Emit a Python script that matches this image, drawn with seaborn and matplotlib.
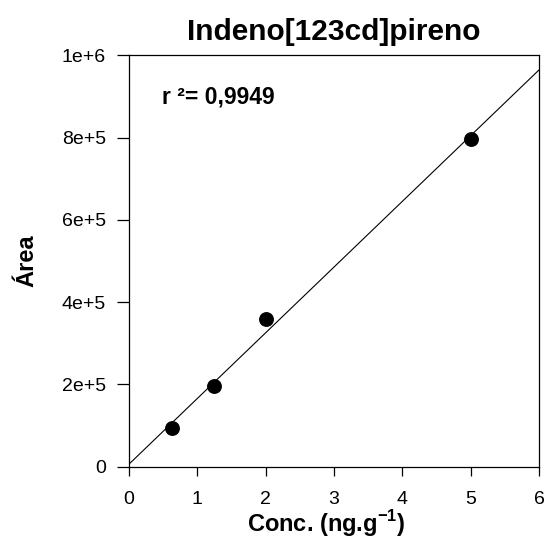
import numpy as np
import pandas as pd
import matplotlib
matplotlib.use("Agg")
import matplotlib.pyplot as plt
import seaborn as sns

conc = [0.625, 1.25, 2.0, 5.0]
area = [93000, 195000, 358000, 796000]
x_ticks = [0, 1, 2, 3, 4, 5, 6]
y_ticks = [0, 200000, 400000, 600000, 800000, 1000000]
y_tick_labels = ["0", "2e+5", "4e+5", "6e+5", "8e+5", "1e+6"]
title = "Indeno[123cd]pireno"
r2_text = "r ²= 0,9949"

sns.set_style("ticks", {"text.color": "black", "axes.labelcolor": "black",
                        "xtick.color": "black", "ytick.color": "black",
                        "axes.edgecolor": "black"})
plt.rcParams["font.family"] = ["Liberation Sans", "DejaVu Sans"]
plt.rcParams["mathtext.fontset"] = "custom"
plt.rcParams["mathtext.bf"] = "Liberation Sans:bold"
plt.rcParams["mathtext.rm"] = "Liberation Sans"

fig = plt.figure(figsize=(5.48, 5.46), dpi=100)
ax = fig.add_axes([129/548, 1 - 466.7/546, (539-129)/548, (466.7-55.3)/546])

df = pd.DataFrame({"conc": conc, "area": area})
slope, intercept = np.polyfit(conc, area, 1)
fit_x = np.array([x_ticks[0], x_ticks[-1]], dtype=float)
fit = pd.DataFrame({"conc": fit_x, "area": slope * fit_x + intercept})

sns.lineplot(data=fit, x="conc", y="area", ax=ax, color="black", linewidth=0.8)
sns.scatterplot(data=df, x="conc", y="area", ax=ax, color="black", s=115,
                edgecolor="black", linewidth=0, zorder=3)

ax.set_xlim(x_ticks[0], x_ticks[-1])
ax.set_ylim(y_ticks[0], y_ticks[-1])
ax.set_xticks(x_ticks)
ax.set_xticklabels([str(t) for t in x_ticks])
ax.set_yticks(y_ticks)
ax.set_yticklabels(y_tick_labels)
ax.tick_params(axis="x", direction="out", length=6.2, width=0.9, labelsize=14, pad=11)
ax.tick_params(axis="y", direction="out", length=8.6, width=0.9, labelsize=14, pad=8)
for s in ax.spines.values():
    s.set_linewidth(0.9)
    s.set_color("black")

ax.set_xlabel("Conc. (ng.g$^{\\mathbf{-1}}$)", fontsize=17, fontweight="bold")
ax.xaxis.set_label_coords(0.48, -0.1)
ax.set_ylabel("Área", fontsize=17, fontweight="bold")
ax.yaxis.set_label_coords(-0.222, 0.5)
ax.set_title(title, fontsize=21.5, fontweight="bold", pad=11)
ax.text(0.08, 0.899, r2_text, transform=ax.transAxes, fontsize=16.5,
        fontweight="bold", ha="left", va="center")

fig.savefig("out.png", dpi=100)
